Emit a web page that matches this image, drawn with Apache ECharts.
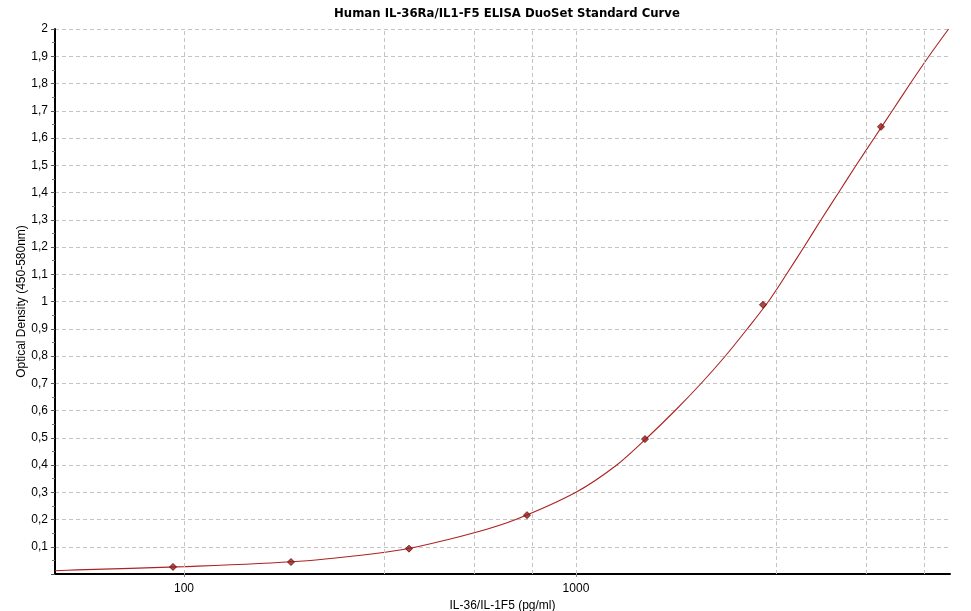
<!DOCTYPE html>
<html>
<head>
<meta charset="utf-8">
<script src="https://cdn.jsdelivr.net/npm/echarts@6/dist/echarts.min.js"></script>
<style>
  html, body { margin: 0; padding: 0; background: #fff; }
  #chart { width: 971px; height: 611px; }
</style>
</head>
<body>
<div id="chart"></div>
<script>
// standards (pg/ml) and their mean OD
const stdConc = [93.75, 187.5, 375, 750, 1500, 3000, 6000];
const stdOD = [0.026, 0.044, 0.093, 0.216, 0.495, 0.988, 1.641];

// fitted curve
const curveConc = [46.875, 53.3, 100, 197, 326, 394, 553, 702, 1000, 1271, 1519, 1791,
    2088, 2405, 2737, 3097, 3444, 3817, 4220, 4679, 5185, 5767, 6412, 7127, 7951, 8925];
const curveOD = [0.012, 0.015, 0.027, 0.047, 0.080, 0.100, 0.152, 0.200, 0.300, 0.400, 0.500, 0.600,
    0.700, 0.800, 0.900, 1.000, 1.100, 1.200, 1.300, 1.400, 1.500, 1.600, 1.700, 1.800, 1.900, 2.000];

// vertical grid lines used by the plate reader software
const xGridValues = [100, 325, 550, 775, 1000, 3250, 5500, 7750];
const xMin = 46.875;
const xMax = 9000;

const font = 'Liberation Sans, Arial, sans-serif';
const gridColor = '#c4c4c4';

const chart = echarts.init(document.getElementById('chart'), null, { renderer: 'canvas' });

chart.setOption({
    animation: false,
    backgroundColor: '#fff',
    title: {
        text: 'Human IL-36Ra/IL1-F5 ELISA DuoSet Standard Curve',
        left: 502,
        textAlign: 'center',
        top: 3,
        textStyle: { fontFamily: 'DejaVu Sans, Tahoma, sans-serif', fontSize: 11.7, fontWeight: 'bold', color: '#000' }
    },
    grid: { left: 55, right: 21, top: 29, bottom: 37, outerBoundsMode: 'none', containLabel: false },
    xAxis: {
        type: 'log',
        min: xMin,
        max: xMax,
        name: 'IL-36/IL-1F5 (pg/ml)',
        nameLocation: 'middle',
        nameGap: 25,
        nameTextStyle: { fontFamily: font, fontSize: 12, color: '#000' },
        axisLine: { lineStyle: { color: '#000', width: 2 } },
        axisTick: { show: true, length: 3, lineStyle: { color: '#888' } },
        axisLabel: {
            fontFamily: font, fontSize: 12, color: '#000', margin: 9,
            showMinLabel: false, showMaxLabel: false,
            formatter: v => String(Math.round(v))
        },
        splitLine: { show: false },
        minorTick: { show: false }
    },
    yAxis: {
        type: 'value',
        min: 0,
        max: 2,
        interval: 0.1,
        name: 'Optical Density (450-580nm)',
        nameLocation: 'middle',
        nameGap: 27,
        nameMoveOverlap: false,
        nameTextStyle: { fontFamily: font, fontSize: 12, color: '#000' },
        axisLine: { show: true, lineStyle: { color: '#000', width: 2 } },
        axisTick: { show: true, length: 4, lineStyle: { color: '#555' } },
        minorTick: { show: true, splitNumber: 2, length: 3, lineStyle: { color: '#777' } },
        axisLabel: {
            fontFamily: font, fontSize: 12, color: '#000', margin: 7, showMinLabel: false,
            formatter: v => String(+v.toFixed(1)).replace('.', ',')
        },
        splitLine: { show: true, lineStyle: { color: gridColor, type: [4, 3], width: 1 } }
    },
    series: [
        {
            // holder for the vertical grid lines
            type: 'line',
            data: [],
            z: 1,
            silent: true,
            markLine: {
                silent: true,
                symbol: 'none',
                label: { show: false },
                lineStyle: { color: gridColor, type: [4, 3], width: 1 },
                data: xGridValues.map(v => ({ xAxis: v }))
            }
        },
        {
            name: 'curve',
            type: 'line',
            z: 3,
            showSymbol: false,
            smooth: 0.3,
            data: curveConc.map((c, i) => [c, curveOD[i]]),
            lineStyle: { color: '#ad2222', width: 1.1 }
        },
        {
            name: 'standards',
            type: 'scatter',
            z: 4,
            symbol: 'diamond',
            symbolSize: 7,
            data: stdConc.map((c, i) => [c, stdOD[i]]),
            itemStyle: { color: '#9c1a1a', borderColor: '#5c0b0b', borderWidth: 1 }
        }
    ]
});
</script>
</body>
</html>
